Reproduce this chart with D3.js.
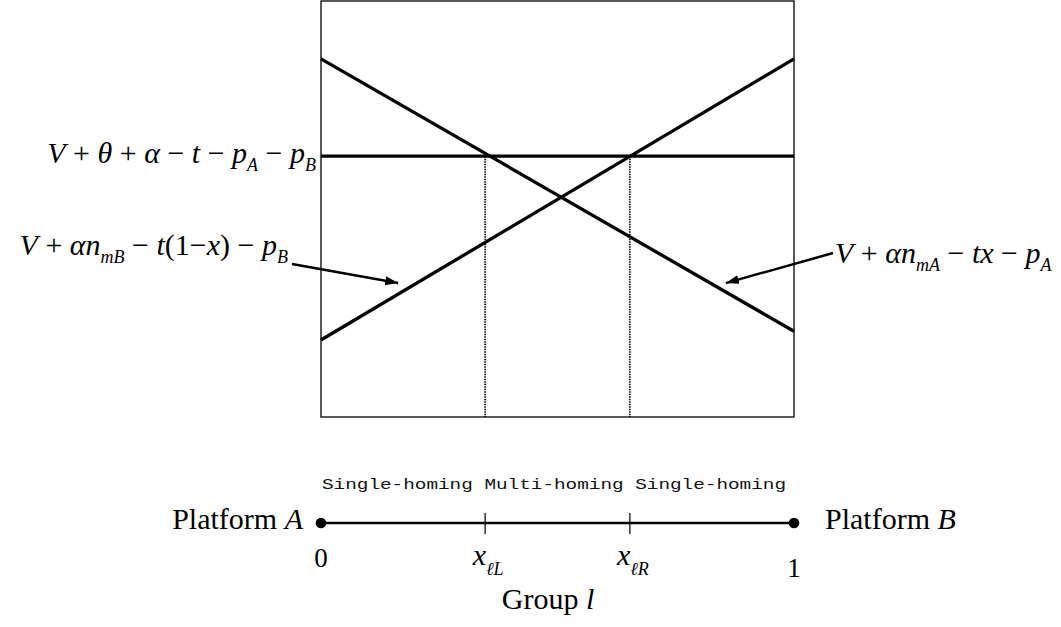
<!DOCTYPE html>
<html>
<head>
<meta charset="utf-8">
<script src="https://cdn.jsdelivr.net/npm/d3@7"></script>
<style>
  body { margin: 0; background: #fff; }
  svg { display: block; }
  .serif { font-family: "Liberation Serif", "Times New Roman", serif; fill: #000; white-space: pre; }
</style>
</head>
<body>
<div id="chart"></div>
<script>
// chart values (x = share of the group, y = utility in arbitrary units)
const xEnds = [0, 1];
const utilA = [0.861, 0.206];      // V + αn_mA − tx − p_A  (falls with x)
const utilB = [0.185, 0.861];      // V + αn_mB − t(1−x) − p_B  (rises with x)
const utilMulti = [0.627, 0.627];  // V + θ + α − t − p_A − p_B
const cutoffs = [0.347, 0.653];
const cutoffNames = ["ℓL", "ℓR"];
const endNames = ["0", "1"];
const platformNames = ["A", "B"];
const regimeNames = ["Single-homing", "Multi-homing", "Single-homing"];
const arrowHeads = [[0.163, 0.322], [0.856, 0.322]];

const W = 1061, H = 627;
const svg = d3.select("#chart").append("svg").attr("width", W).attr("height", H);

const x = d3.scaleLinear().domain([0, 1]).range([321, 794]);
const y = d3.scaleLinear().domain([0, 1]).range([417, 1]);
const FS = 30;

// write a formula made of [text, kind] parts: r roman, i italic, s subscript
function mathText(sel, parts, size, drop) {
  let shift = 0;
  drop = drop || Math.round(size * 0.25);
  parts.forEach(([s, k]) => {
    const sub = k === "s";
    const target = sub ? drop : 0;
    sel.append("tspan")
      .attr("dy", target - shift)
      .style("font-style", k === "r" ? "normal" : "italic")
      .style("font-size", (sub ? size * 0.6 : size) + "px")
      .text(s);
    shift = target;
  });
}

svg.append("defs").append("marker")
  .attr("id", "head")
  .attr("markerUnits", "userSpaceOnUse")
  .attr("markerWidth", 14).attr("markerHeight", 10)
  .attr("refX", 13).attr("refY", 4.5)
  .attr("orient", "auto")
  .append("path").attr("d", "M0,0L13,4.5L0,9Z").attr("fill", "#000");

// frame
svg.append("rect")
  .attr("x", x(0)).attr("y", y(1))
  .attr("width", x(1) - x(0)).attr("height", y(0) - y(1))
  .attr("fill", "none").attr("stroke", "#000").attr("stroke-width", 1.3);

// dotted cut-offs from the multi-homing line down to the floor
svg.selectAll("line.cut").data(cutoffs).join("line")
  .attr("class", "cut")
  .attr("x1", d => x(d)).attr("x2", d => x(d))
  .attr("y1", y(utilMulti[0])).attr("y2", y(0))
  .attr("stroke", "#000").attr("stroke-width", 1.6)
  .attr("stroke-dasharray", "1.5,1");

// utility lines
const line = d3.line().x(d => x(d[0])).y(d => y(d[1]));
[utilA, utilB, utilMulti].forEach(u => {
  svg.append("path")
    .datum(xEnds.map((xe, i) => [xe, u[i]]))
    .attr("d", line)
    .attr("fill", "none").attr("stroke", "#000").attr("stroke-width", 3.3);
});

// formula labels
const lblMulti = svg.append("text").attr("class", "serif")
  .attr("x", x(0) - 5).attr("y", y(utilMulti[0]) + 7).attr("text-anchor", "end");
mathText(lblMulti, [["V", "i"], [" + ", "r"], ["θ", "i"], [" + ", "r"], ["α", "i"], [" − ", "r"],
  ["t", "i"], [" − ", "r"], ["p", "i"], ["A", "s"], [" − ", "r"], ["p", "i"], ["B", "s"]], FS);

const lblB = svg.append("text").attr("class", "serif")
  .attr("x", 288).attr("y", 255).attr("text-anchor", "end");
mathText(lblB, [["V", "i"], [" + ", "r"], ["αn", "i"], ["mB", "s"], [" − ", "r"], ["t", "i"], ["(1−", "r"],
  ["x", "i"], [") − ", "r"], ["p", "i"], ["B", "s"]], FS);

const lblA = svg.append("text").attr("class", "serif")
  .attr("x", 835).attr("y", 263).attr("text-anchor", "start");
mathText(lblA, [["V", "i"], [" + ", "r"], ["αn", "i"], ["mA", "s"], [" − ", "r"], ["tx", "i"], [" − ", "r"],
  ["p", "i"], ["A", "s"]], FS);

// arrows from the labels to the lines
const tails = [[292, 264], [833, 253]];
arrowHeads.forEach((h, i) => {
  svg.append("line")
    .attr("x1", tails[i][0]).attr("y1", tails[i][1])
    .attr("x2", x(h[0])).attr("y2", y(h[1]))
    .attr("stroke", "#000").attr("stroke-width", 2.4)
    .attr("marker-end", "url(#head)");
});

// ---- group l axis below ----
const axisY = 523;
svg.append("line")
  .attr("x1", x(0)).attr("x2", x(1))
  .attr("y1", axisY).attr("y2", axisY)
  .attr("stroke", "#000").attr("stroke-width", 2.7);

svg.selectAll("circle.end").data(xEnds).join("circle")
  .attr("class", "end")
  .attr("cx", d => x(d)).attr("cy", axisY).attr("r", 5.3).attr("fill", "#000");

svg.selectAll("line.tick").data(cutoffs).join("line")
  .attr("class", "tick")
  .attr("x1", d => x(d)).attr("x2", d => x(d))
  .attr("y1", axisY - 10).attr("y2", axisY + 11)
  .attr("stroke", "#000").attr("stroke-width", 1.2);

svg.append("text")
  .attr("x", 322).attr("y", 489)
  .attr("textLength", 464).attr("lengthAdjust", "spacingAndGlyphs")
  .style("font-family", "'Liberation Mono', 'Courier New', monospace")
  .style("font-size", "15px").style("fill", "#111")
  .text(regimeNames.join(" "));

// end labels 0 and 1
svg.selectAll("text.endlbl").data(endNames).join("text")
  .attr("class", "serif endlbl")
  .attr("x", (d, i) => x(xEnds[i]))
  .attr("y", (d, i) => i === 0 ? 567 : 577)
  .attr("text-anchor", "middle")
  .style("font-size", "27px")
  .text(d => d);

// cut-off labels x_ℓL, x_ℓR
cutoffs.forEach((c, i) => {
  const t = svg.append("text").attr("class", "serif")
    .attr("x", x(c) + 3).attr("y", 565).attr("text-anchor", "middle");
  mathText(t, [["x", "i"], [cutoffNames[i], "s"]], FS, 10);
});

// platform labels
platformNames.forEach((p, i) => {
  const t = svg.append("text").attr("class", "serif")
    .attr("x", i === 0 ? x(0) - 18 : x(1) + 31)
    .attr("y", 529)
    .attr("text-anchor", i === 0 ? "end" : "start");
  mathText(t, [["Platform ", "r"], [p, "i"]], FS);
});

const grp = svg.append("text").attr("class", "serif")
  .attr("x", 548).attr("y", 609).attr("text-anchor", "middle");
mathText(grp, [["Group ", "r"], ["l", "i"]], FS);
</script>
</body>
</html>
